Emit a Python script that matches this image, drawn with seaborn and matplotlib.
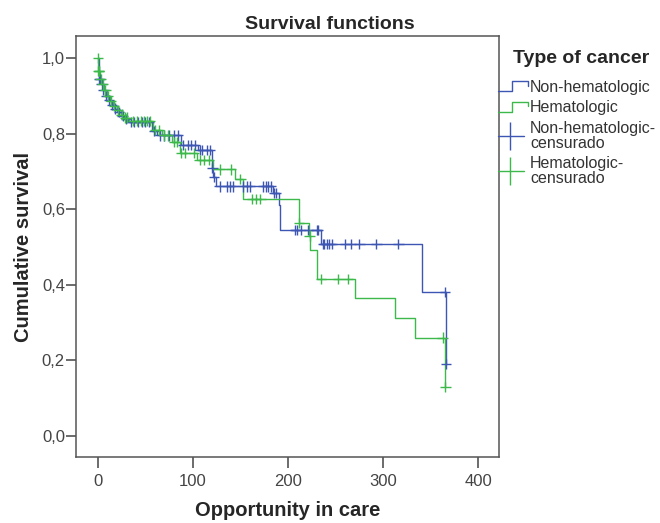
import numpy as np
import pandas as pd
import seaborn as sns
import matplotlib.pyplot as plt
from matplotlib.lines import Line2D
from matplotlib.legend_handler import HandlerBase

# Kaplan-Meier step data
# Non-hematologic (blue)
nonhem_times = [0, 1, 3, 5, 8, 11, 14, 17, 20, 24, 28, 32, 57, 62, 88, 105,
                120, 121, 124, 184, 190, 192, 235, 341, 366]
nonhem_surv = [1.0, 0.945, 0.93, 0.915, 0.90, 0.888, 0.876, 0.866, 0.856, 0.846,
               0.838, 0.83, 0.806, 0.795, 0.77, 0.757, 0.708, 0.684, 0.66, 0.643,
               0.61, 0.545, 0.507, 0.38, 0.19]
nonhem_censored = [1.5, 2, 4, 6, 9, 12, 15, 18, 22, 26, 30, 35, 38, 42, 46, 50, 54,
                   59, 65, 70, 75, 80, 84, 90, 95, 98, 102, 107, 110, 115, 118,
                   120.5, 122, 128, 136, 139, 142, 153, 157, 160, 174, 177, 179,
                   182, 185, 187, 207, 209, 214, 221, 230, 231, 236.5, 238, 240.5,
                   243.5, 246.5, 260, 266, 275, 293, 316, 365, 366]

# Hematologic (green)
hem_times = [0, 0.4, 2, 4, 7, 10, 13, 16, 20, 24, 28, 33, 58, 68, 78, 86, 104,
             121, 144, 153, 211.6, 222.4, 223, 230.8, 270.4, 312.5, 334, 365]
hem_surv = [1.0, 0.965, 0.945, 0.93, 0.915, 0.90, 0.886, 0.874, 0.862, 0.85,
            0.842, 0.834, 0.81, 0.795, 0.778, 0.748, 0.73, 0.705, 0.679, 0.626,
            0.564, 0.53, 0.492, 0.415, 0.364, 0.311, 0.26, 0.129]
hem_censored = [0, 0.6, 1, 1.5, 3, 5, 8, 11, 14, 17, 21, 25, 29, 31, 37, 41, 45,
                49, 52, 55, 60, 64, 70, 74, 80, 83, 88, 92, 101, 107, 112, 117,
                128, 140, 150, 162, 166, 171, 211.8, 222.6, 234.4, 252.9, 263,
                362.5, 365.5]

groups = ['Non-hematologic', 'Hematologic']
colors = {'Non-hematologic': '#3D55B3', 'Hematologic': '#3DB94C'}


def surv_at(t, times, surv):
    idx = np.searchsorted(times, t, side='right') - 1
    return surv[idx]


steps = pd.concat([
    pd.DataFrame({'time': nonhem_times, 'surv': nonhem_surv, 'group': groups[0]}),
    pd.DataFrame({'time': hem_times, 'surv': hem_surv, 'group': groups[1]}),
])
cens = pd.concat([
    pd.DataFrame({'time': nonhem_censored,
                  'surv': [surv_at(t, nonhem_times, nonhem_surv) for t in nonhem_censored],
                  'group': groups[0]}),
    pd.DataFrame({'time': hem_censored,
                  'surv': [surv_at(t, hem_times, hem_surv) for t in hem_censored],
                  'group': groups[1]}),
])

sns.set_style('white')
plt.rcParams['font.family'] = ['Liberation Sans', 'DejaVu Sans']

fig = plt.figure(figsize=(6.6, 5.23), dpi=100)
ax = fig.add_axes([76 / 660, 1 - 457 / 523, 423 / 660, 421 / 523])

sns.lineplot(data=steps, x='time', y='surv', hue='group', palette=colors,
             estimator=None, sort=False, drawstyle='steps-post', linewidth=1,
             legend=False, ax=ax)
sns.scatterplot(data=cens, x='time', y='surv', hue='group', palette=colors,
                marker='+', s=55, linewidth=1, legend=False, ax=ax, zorder=3)

ax.set_xlim(-22.9, 421.8)
ax.set_ylim(-0.056, 1.058)
ax.set_xticks([0, 100, 200, 300, 400])
ax.set_yticks([0, 0.2, 0.4, 0.6, 0.8, 1.0])
ax.set_yticklabels([f'{v:.1f}'.replace('.', ',') for v in ax.get_yticks()])
ax.tick_params(axis='y', length=7, width=1.1, pad=1, labelsize=12,
               colors='#444444', left=True)
ax.tick_params(axis='x', length=8, width=1.1, pad=4, labelsize=12,
               colors='#444444', bottom=True)
for sp in ax.spines.values():
    sp.set_color('#555555')
    sp.set_linewidth(1.1)

ax.set_xlabel('Opportunity in care', fontsize=14.5, fontweight='bold', labelpad=9)
ax.set_ylabel('Cumulative survival', fontsize=14.5, fontweight='bold', labelpad=6)
fig.text(0.5, 1 - 29 / 523, 'Survival functions', ha='center', va='baseline',
         fontsize=14, fontweight='bold')
fig.text(513 / 660, 1 - 63 / 523, 'Type of cancer', ha='left', va='baseline',
         fontsize=14, fontweight='bold')


class StepHandler(HandlerBase):
    def create_artists(self, legend, orig_handle, xdescent, ydescent,
                       width, height, fontsize, trans):
        xs = np.array([0, 0.45, 0.45, 1.0, 1.0]) * width - xdescent
        ys = np.array([0.05, 0.05, 0.95, 0.95, 0.55]) * height - ydescent
        return [Line2D(xs, ys, color=orig_handle.get_color(), lw=1, transform=trans)]


class CensorHandler(HandlerBase):
    def create_artists(self, legend, orig_handle, xdescent, ydescent,
                       width, height, fontsize, trans):
        y = 0.5 * height - ydescent
        line = Line2D([-xdescent, width * 0.85 - xdescent], [y, y],
                      color=orig_handle.get_color(), lw=1, transform=trans)
        tick = Line2D([width * 0.4 - xdescent], [y], marker='|', markersize=20,
                      mew=1, color=orig_handle.get_color(), transform=trans)
        return [line, tick]


step_handles = [Line2D([], [], color=colors[g]) for g in groups]
cens_handles = [Line2D([], [], color=colors[g]) for g in groups]
handler_map = {h: StepHandler() for h in step_handles}
handler_map.update({h: CensorHandler() for h in cens_handles})
leg = fig.legend(step_handles + cens_handles,
                 ['Non-hematologic', 'Hematologic',
                  'Non-hematologic-\ncensurado', 'Hematologic-\ncensurado'],
                 handler_map=handler_map, loc='upper left',
                 bbox_to_anchor=(498 / 660, 1 - 80 / 523), frameon=False,
                 fontsize=11.5, handlelength=1.9, handletextpad=0.1,
                 labelspacing=0.33, borderpad=0, borderaxespad=0)
for t in leg.get_texts():
    t.set_color('#333333')
    t.set_linespacing(1.0)

fig.savefig('out.png', dpi=100)
